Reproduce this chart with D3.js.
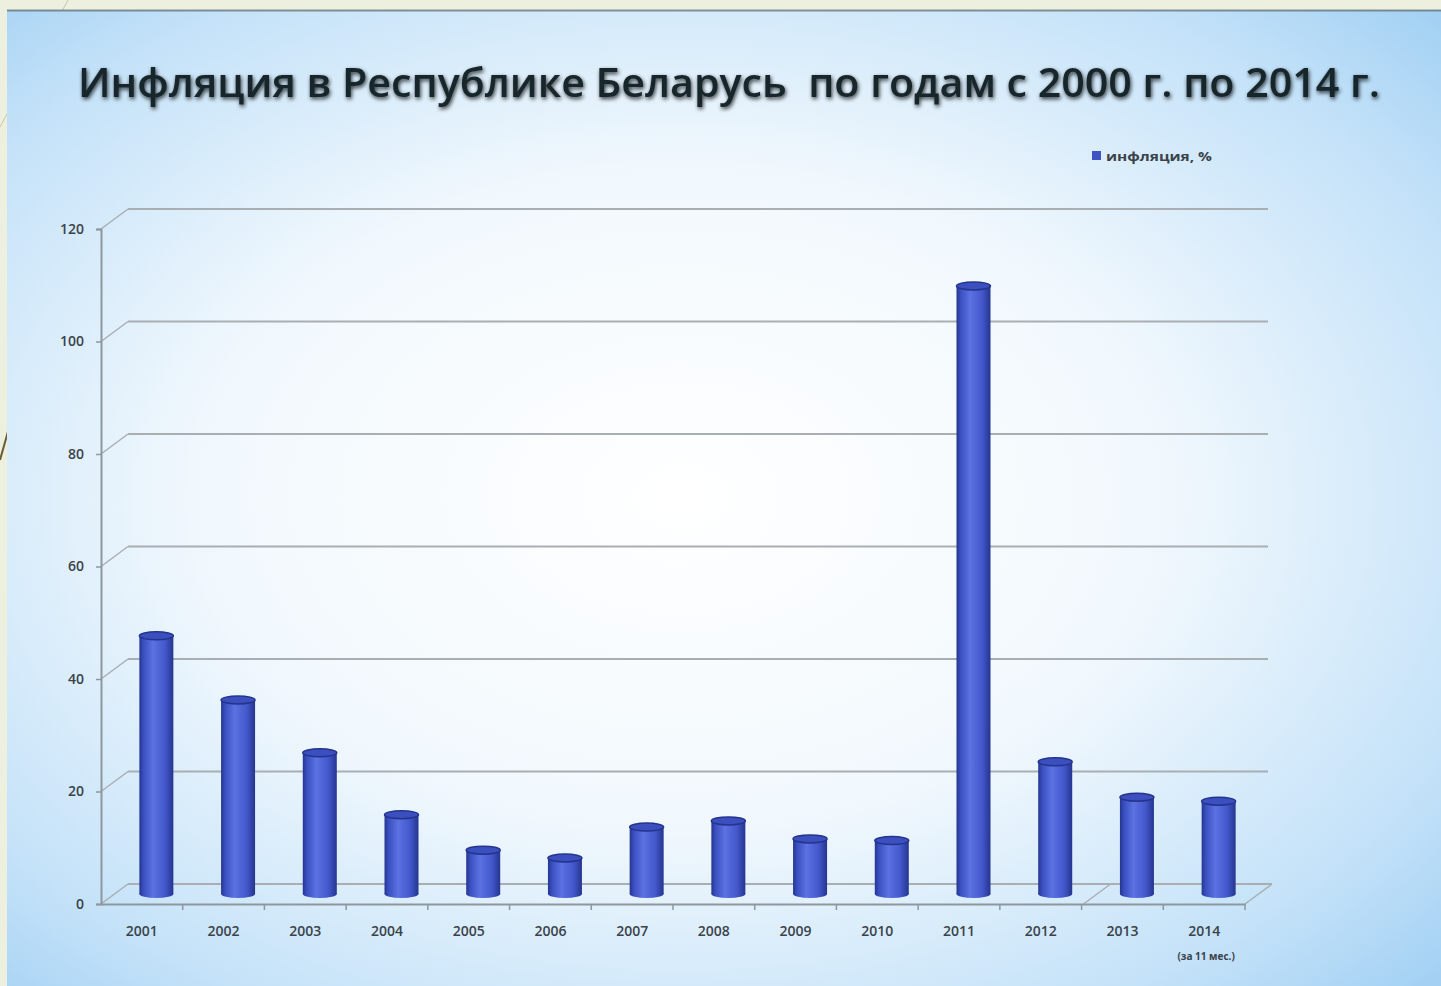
<!DOCTYPE html>
<html>
<head>
<meta charset="utf-8">
<script src="https://cdn.jsdelivr.net/npm/d3@7"></script>
<style>
  body { margin: 0; background: #eef0df; overflow: hidden; }
  svg { display: block; }
</style>
</head>
<body>
<script>
// chart data
const years = ["2001", "2002", "2003", "2004", "2005", "2006", "2007",
  "2008", "2009", "2010", "2011", "2012", "2013", "2014"];
const inflation = [45.9, 34.5, 25.1, 14.1, 7.8, 6.4, 11.9, 13.0, 9.8, 9.5, 108.1, 23.5, 17.2, 16.5];
const yTicks = [0, 20, 40, 60, 80, 100, 120];
const titleText = "Инфляция в Республике Беларусь  по годам с 2000 г. по 2014 г.";
const legendText = "инфляция, %";
const lastNote = "(за 11 мес.)";

const width = 1441;
const height = 986;

// 3d depth offset of the back wall
const depthX = 27;
const depthY = -20;

const svg = d3.select("body").append("svg")
  .attr("width", width)
  .attr("height", height);

const defs = svg.append("defs");

// slide background
const bg = defs.append("radialGradient")
  .attr("id", "bg")
  .attr("cx", "0.47").attr("cy", "0.5").attr("r", "0.75");
bg.append("stop").attr("offset", "0").attr("stop-color", "#ffffff");
bg.append("stop").attr("offset", "0.45").attr("stop-color", "#f1f8fd");
bg.append("stop").attr("offset", "0.8").attr("stop-color", "#c2e1f8");
bg.append("stop").attr("offset", "1").attr("stop-color", "#9ccdf2");

// cylinder body
const body = defs.append("linearGradient")
  .attr("id", "cyl")
  .attr("x1", "0").attr("x2", "1").attr("y1", "0").attr("y2", "0");
body.append("stop").attr("offset", "0").attr("stop-color", "#25358f");
body.append("stop").attr("offset", "0.12").attr("stop-color", "#3a4fc0");
body.append("stop").attr("offset", "0.4").attr("stop-color", "#5b72e2");
body.append("stop").attr("offset", "0.75").attr("stop-color", "#4358cc");
body.append("stop").attr("offset", "1").attr("stop-color", "#26358f");

const shadow = defs.append("filter").attr("id", "tshadow")
  .attr("x", "-5%").attr("y", "-30%").attr("width", "110%").attr("height", "160%");
shadow.append("feGaussianBlur").attr("in", "SourceAlpha").attr("stdDeviation", 2.2).attr("result", "b");
shadow.append("feOffset").attr("in", "b").attr("dx", 1).attr("dy", 2).attr("result", "o");
shadow.append("feComponentTransfer").attr("in", "o").attr("result", "s")
  .append("feFuncA").attr("type", "linear").attr("slope", 0.8);
const merge = shadow.append("feMerge");
merge.append("feMergeNode").attr("in", "s");
merge.append("feMergeNode").attr("in", "SourceGraphic");

// beige slide frame + decorative lines
svg.append("line")
  .attr("x1", 68).attr("y1", 0).attr("x2", 0).attr("y2", 127)
  .attr("stroke", "#c8c6a8").attr("stroke-width", 1);
svg.append("line")
  .attr("x1", 9).attr("y1", 428).attr("x2", 0).attr("y2", 460)
  .attr("stroke", "#6b5c34").attr("stroke-width", 2);

svg.append("rect")
  .attr("x", 7).attr("y", 10)
  .attr("width", width - 7).attr("height", height - 10)
  .attr("fill", "url(#bg)");
svg.append("line")
  .attr("x1", 7).attr("y1", 10.5).attr("x2", width).attr("y2", 10.5)
  .attr("stroke", "#5d6a70").attr("stroke-width", 2).attr("opacity", 0.7);

// scales
const x = d3.scaleBand()
  .domain(years)
  .range([101, 1245]);

const y = d3.scaleLinear()
  .domain([0, 120])
  .range([904, 229]);

const gridColor = "#a9aeb3";

// back wall gridlines + diagonal tick connectors
const grid = svg.append("g");
grid.selectAll(".gl")
  .data(yTicks.filter(t => t > 0))
  .join("line")
  .attr("x1", x.range()[0] + depthX)
  .attr("x2", 1268)
  .attr("y1", d => y(d) + depthY)
  .attr("y2", d => y(d) + depthY)
  .attr("stroke", gridColor)
  .attr("stroke-width", 2);

grid.selectAll(".dg")
  .data(yTicks)
  .join("line")
  .attr("x1", x.range()[0])
  .attr("y1", d => y(d))
  .attr("x2", x.range()[0] + depthX)
  .attr("y2", d => y(d) + depthY)
  .attr("stroke", gridColor)
  .attr("stroke-width", 1.5);

// floor back edge and side edges
grid.append("line")
  .attr("x1", x.range()[0] + depthX).attr("x2", x.range()[1] + depthX)
  .attr("y1", y(0) + depthY).attr("y2", y(0) + depthY)
  .attr("stroke", gridColor).attr("stroke-width", 2);
grid.append("line")
  .attr("x1", x.range()[1]).attr("y1", y(0))
  .attr("x2", x.range()[1] + depthX).attr("y2", y(0) + depthY)
  .attr("stroke", gridColor).attr("stroke-width", 1.5);
grid.append("line")
  .attr("x1", x("2013") + 2).attr("y1", y(0))
  .attr("x2", x("2013") + depthX + 2).attr("y2", y(0) + depthY)
  .attr("stroke", gridColor).attr("stroke-width", 1.5);

// y axis
const yAxis = svg.append("g")
  .attr("transform", `translate(${x.range()[0]},0)`)
  .call(d3.axisLeft(y).tickValues(yTicks).tickSize(5).tickPadding(12));
yAxis.select(".domain").attr("stroke", "#8e979e").attr("stroke-width", 2);
yAxis.selectAll(".tick line").attr("stroke", "#8e979e").attr("stroke-width", 1.5);
yAxis.selectAll(".tick text")
  .attr("font-family", "'Open Sans', sans-serif")
  .attr("font-size", 14)
  .attr("font-weight", 600)
  .attr("fill", "#3a434a");

// x axis
const xAxis = svg.append("g")
  .attr("transform", `translate(0,${y(0)})`)
  .call(d3.axisBottom(x).tickSize(0).tickPadding(22));
xAxis.select(".domain").attr("stroke", "#8e979e").attr("stroke-width", 2);
xAxis.selectAll(".tick text")
  .attr("font-family", "'Open Sans', sans-serif")
  .attr("font-size", 14)
  .attr("font-weight", 600)
  .attr("fill", "#3a434a");

// boundary ticks between categories
xAxis.selectAll(".bt")
  .data(years.slice(1).concat(["end"]))
  .join("line")
  .attr("x1", d => d === "end" ? x.range()[1] : x(d))
  .attr("x2", d => d === "end" ? x.range()[1] : x(d))
  .attr("y1", 0).attr("y2", 6)
  .attr("stroke", "#8e979e").attr("stroke-width", 1.5);

svg.append("text")
  .attr("x", x("2014") + x.bandwidth() / 2 + 2)
  .attr("y", 960)
  .attr("text-anchor", "middle")
  .attr("font-family", "'Open Sans', sans-serif")
  .attr("font-size", 10)
  .attr("font-weight", 700)
  .attr("fill", "#3a434a")
  .text(lastNote);

// cylinders
const r = 17;
const ry = 4;
const bars = svg.append("g")
  .selectAll("g")
  .data(years.map((d, i) => ({ year: d, value: inflation[i] })))
  .join("g")
  .attr("transform", d => `translate(${x(d.year) + x.bandwidth() / 2 + depthX / 2 + 1},0)`);

const base = y(0) + depthY / 2;

bars.append("ellipse")
  .attr("cx", 0).attr("cy", base)
  .attr("rx", r).attr("ry", ry)
  .attr("fill", "url(#cyl)");

bars.append("rect")
  .attr("x", -r)
  .attr("y", d => y(d.value) + depthY / 2)
  .attr("width", r * 2)
  .attr("height", d => base - (y(d.value) + depthY / 2))
  .attr("fill", "url(#cyl)");

bars.append("ellipse")
  .attr("cx", 0)
  .attr("cy", d => y(d.value) + depthY / 2)
  .attr("rx", r).attr("ry", ry)
  .attr("fill", "#3b4fbf")
  .attr("stroke", "#24348c")
  .attr("stroke-width", 1.5);

// legend
svg.append("rect")
  .attr("x", 1092).attr("y", 151)
  .attr("width", 9).attr("height", 9)
  .attr("fill", "#4053c2");
svg.append("text")
  .attr("x", 1106).attr("y", 161)
  .attr("textLength", 106)
  .attr("lengthAdjust", "spacingAndGlyphs")
  .attr("font-family", "'Open Sans', sans-serif")
  .attr("font-size", 13)
  .attr("font-weight", 700)
  .attr("fill", "#3a434a")
  .text(legendText);

// title
svg.append("text")
  .attr("x", 78).attr("y", 97)
  .attr("textLength", 1302)
  .attr("lengthAdjust", "spacingAndGlyphs")
  .attr("font-family", "'Open Sans', sans-serif")
  .attr("font-size", 40)
  .attr("font-weight", 600)
  .attr("fill", "#17262c")
  .attr("filter", "url(#tshadow)")
  .style("white-space", "pre")
  .text(titleText);
</script>
</body>
</html>
